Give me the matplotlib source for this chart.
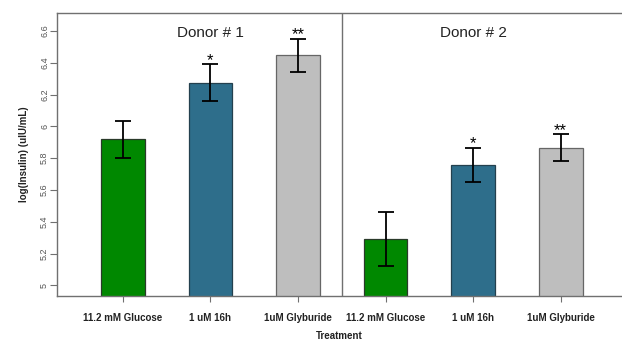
import numpy as np
import matplotlib.pyplot as plt

plt.rcParams['font.family'] = ['Liberation Sans', 'DejaVu Sans']

# log insulin means and error half-widths, donor 1 then donor 2
treatments = ['11.2 mM Glucose', '1 uM 16h', '1uM Glyburide']
donor1_mean = [5.918, 6.275, 6.447]
donor1_err = [0.118, 0.115, 0.105]
donor2_mean = [5.291, 5.758, 5.866]
donor2_err = [0.168, 0.108, 0.083]
stars = ['', '*', '**']
donors = ['Donor # 1', 'Donor # 2']

bar_colors = ['#008800', '#2E6E8B', '#BEBEBE']
edge_colors = ['#2a3a2a', '#24404e', '#666666']
axis_grey = '#707070'

means = donor1_mean + donor2_mean
errs = donor1_err + donor2_err
x = np.arange(len(means))

fig = plt.figure(figsize=(6.22, 3.40), dpi=100)
ax = fig.add_axes([0.0924, 0.1294, 0.9076, 0.8324])

ax.bar(x, means, width=0.5, color=bar_colors * 2, edgecolor=edge_colors * 2,
       linewidth=0.9, zorder=2)
ax.errorbar(x, means, yerr=errs, fmt='none', ecolor='black', elinewidth=1.3,
            capsize=6, capthick=1.3, zorder=3)

for xi, m, e, s in zip(x, means, errs, stars * 2):
    if s:
        ax.text(xi, m + e - 0.022, s, ha='center', va='bottom', fontsize=12,
                color='black', zorder=4)

# separator between donors
ax.axvline(2.5, color=axis_grey, linewidth=1.0)
ax.text(1, 6.59, donors[0], ha='center', va='center', fontsize=11, color='#222222')
ax.text(4, 6.59, donors[1], ha='center', va='center', fontsize=11, color='#222222')

ax.set_xlim(-0.747, 5.70)
ax.set_ylim(4.933, 6.713)

ax.set_yticks(np.arange(5.0, 6.61, 0.2))
ax.set_yticklabels(['5', '5.2', '5.4', '5.6', '5.8', '6', '6.2', '6.4', '6.6'],
                   rotation=90, va='center', fontsize=6.5, color='#555555')
ax.set_xticks(x)
ax.set_xticklabels(treatments * 2, fontsize=7, fontweight='bold', color='#222222')

ax.tick_params(axis='y', length=5, width=0.8, color=axis_grey, pad=1)
ax.tick_params(axis='x', length=4, width=0.8, color=axis_grey, pad=8)

ax.spines['right'].set_visible(False)
for side in ['left', 'bottom', 'top']:
    ax.spines[side].set_color(axis_grey)
    ax.spines[side].set_linewidth(1.0)

ax.set_ylabel('log(Insulin) (uIU/mL)', fontsize=7, fontweight='bold',
              color='#222222', labelpad=8)
ax.set_xlabel('Treatment', fontsize=7, fontweight='bold', color='#222222',
              labelpad=6)

fig.savefig('out.png', dpi=100)
